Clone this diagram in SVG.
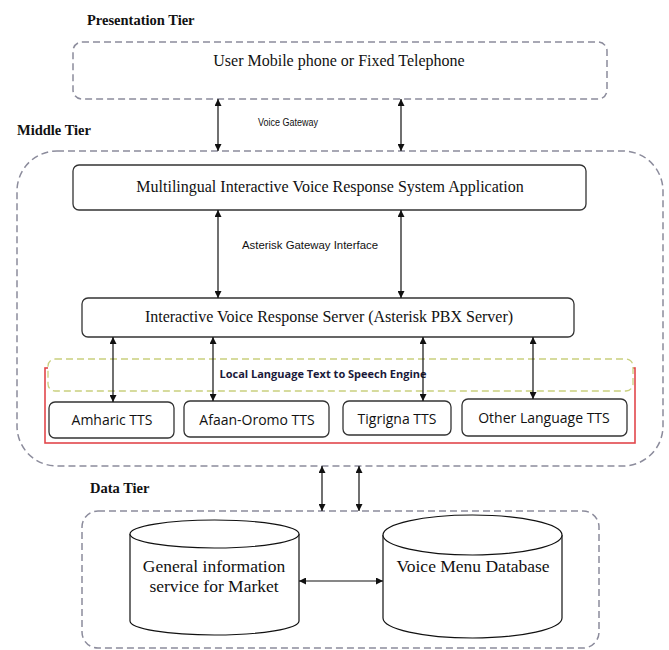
<svg xmlns="http://www.w3.org/2000/svg" width="669" height="650" viewBox="0 0 669 650">
<style>
.tier{fill:none;stroke:#8c8c9c;stroke-width:1.5;stroke-dasharray:7 4}
.box{fill:#fff;stroke:#333;stroke-width:1.3}
.tts{fill:#fff;stroke:#333;stroke-width:1.3}
.cyl{fill:#fff;stroke:#111;stroke-width:1.2}
.title{font-family:"Liberation Serif",serif;font-weight:bold;font-size:14.5px;fill:#111}
.serif{font-family:"Liberation Serif",serif;font-size:16px;fill:#111;text-anchor:middle}
.db{font-family:"Liberation Serif",serif;font-size:17.5px;fill:#111;text-anchor:middle}
.small{font-family:"Liberation Sans",sans-serif;font-size:10px;fill:#111}
.calibri{font-family:"Open Sans","Liberation Sans",sans-serif;font-size:14px;fill:#111;text-anchor:middle}
.conn{stroke:#111;stroke-width:1.2;fill:none;marker-start:url(#ah);marker-end:url(#ah)}
</style>
<defs>
<marker id="ah" viewBox="0 0 10 10" refX="10" refY="5" markerUnits="userSpaceOnUse" markerWidth="8" markerHeight="7" orient="auto-start-reverse">
<path d="M0,0 L10,5 L0,10 z" fill="#111"/>
</marker>
</defs>
<rect width="669" height="650" fill="#fff"/>

<text class="title" x="87" y="25">Presentation Tier</text>
<text class="title" x="17" y="135">Middle Tier</text>
<text class="title" x="90" y="493">Data Tier</text>

<g id="presentation-tier">
<rect class="tier" x="73" y="42" width="534" height="57" rx="9"/>
<text class="serif" x="339" y="66" font-size="17">User Mobile phone or Fixed Telephone</text>
</g>

<g id="middle-tier">
<rect class="tier" x="17" y="151" width="646" height="315" rx="40"/>
</g>

<g id="ivr-app">
<rect class="box" x="73" y="165" width="513" height="45" rx="6"/>
<text class="serif" x="330" y="192">Multilingual Interactive Voice Response System Application</text>
</g>

<g id="ivr-server">
<rect class="box" x="82" y="298" width="492" height="39" rx="6"/>
<text class="serif" x="329" y="322">Interactive Voice Response Server (Asterisk PBX Server)</text>
</g>

<g id="tts-engine">
<rect x="45" y="368" width="590" height="75" fill="none" stroke="#e2474b" stroke-width="1.6"/>
<rect x="48" y="359" width="585" height="32" rx="7" fill="#fff" stroke="#c9d07e" stroke-width="1.3" stroke-dasharray="7 4"/>
<text x="323" y="378" font-family="Open Sans,Liberation Sans,sans-serif" font-weight="bold" font-size="11" fill="#1a1a3a" text-anchor="middle">Local Language Text to Speech Engine</text>
</g>

<g id="amharic-tts">
<rect class="tts" x="49" y="402" width="125" height="36" rx="6"/>
<text class="calibri" x="112" y="425">Amharic TTS</text>
</g>
<g id="afaan-oromo-tts">
<rect class="tts" x="184" y="401" width="145" height="36" rx="6"/>
<text class="calibri" x="257" y="425">Afaan-Oromo TTS</text>
</g>
<g id="tigrigna-tts">
<rect class="tts" x="343" y="401" width="108" height="34" rx="6"/>
<text class="calibri" x="397" y="424">Tigrigna TTS</text>
</g>
<g id="other-tts">
<rect class="tts" x="462" y="399" width="165" height="37" rx="6"/>
<text class="calibri" x="544" y="423">Other Language TTS</text>
</g>

<g id="data-tier">
<rect class="tier" x="82" y="511" width="517" height="137" rx="16"/>
</g>

<g id="general-info-db">
<path class="cyl" d="M130,534 L130,621 A84.5,14 0 0 0 299,621 L299,534 A84.5,14 0 0 0 130,534 Z"/>
<path class="cyl" d="M130,534 A84.5,14 0 0 0 299,534"/>
<text class="db" x="214" y="572">General information</text>
<text class="db" x="214" y="592">service for Market</text>
</g>

<g id="voice-menu-db">
<path class="cyl" d="M383,535 L383,618 A89.5,20 0 0 0 562,618 L562,535 A89.5,20 0 0 0 383,535 Z"/>
<path class="cyl" d="M383,535 A89.5,20 0 0 0 562,535"/>
<text class="db" x="473" y="572">Voice Menu Database</text>
</g>

<g id="connectors">
<line class="conn" x1="218" y1="99" x2="218" y2="151"/>
<line class="conn" x1="401" y1="99" x2="401" y2="151"/>
<text class="small" x="258" y="126" textLength="60" lengthAdjust="spacingAndGlyphs">Voice Gateway</text>
<line class="conn" x1="218" y1="210" x2="218" y2="298"/>
<line class="conn" x1="401" y1="210" x2="401" y2="298"/>
<text class="small" x="242" y="249" textLength="136" lengthAdjust="spacingAndGlyphs">Asterisk Gateway Interface</text>
<line class="conn" x1="113" y1="337" x2="113" y2="402"/>
<line class="conn" x1="213" y1="337" x2="213" y2="401"/>
<line class="conn" x1="423" y1="337" x2="423" y2="401"/>
<line class="conn" x1="533" y1="337" x2="533" y2="399"/>
<line class="conn" x1="322" y1="466" x2="322" y2="511"/>
<line class="conn" x1="359" y1="466" x2="359" y2="511"/>
<line class="conn" x1="299" y1="581" x2="383" y2="581"/>
</g>
</svg>
